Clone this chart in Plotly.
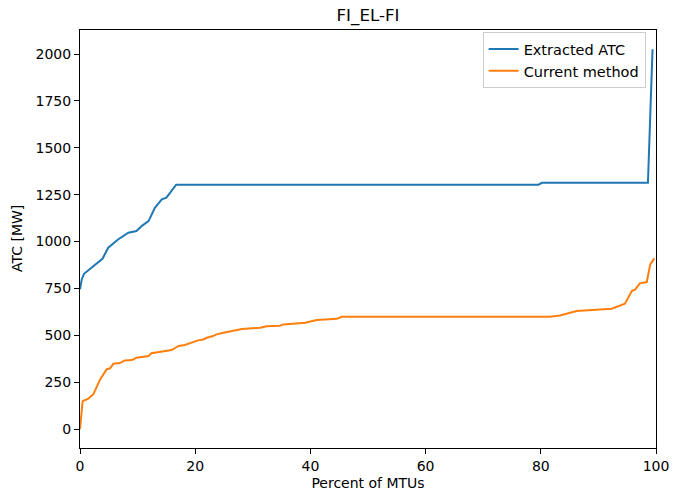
import plotly.graph_objects as go

# Extracted ATC (blue)
atc_x = [0.0, 0.3, 0.7, 2.0, 3.9, 4.9, 6.6, 8.4, 9.8, 10.8, 11.9, 13.0, 14.2, 15.0, 16.7,
         79.6, 80.2, 98.6, 99.4]
atc_y = [745, 798, 828, 860, 908, 967, 1011, 1047, 1056, 1085, 1109, 1180, 1225, 1234, 1303,
         1303, 1313, 1313, 2025]

# Current method (orange)
cur_x = [0.0, 0.46, 1.45, 2.3, 3.5, 4.6, 5.2, 5.8, 6.9, 7.8, 9.0, 9.8, 11.9, 12.4, 15.9,
         17.1, 18.2, 20.5, 21.4, 22.0, 23.1, 23.7, 24.9, 26.6, 28.1, 31.3, 32.4, 34.7,
         35.3, 39.1, 41.1, 44.6, 45.4, 81.6, 83.3, 85.1, 86.2, 92.3, 94.6, 95.8, 96.4,
         97.2, 98.4, 99.0, 99.7]
cur_y = [0, 149, 162, 185, 265, 318, 324, 348, 352, 366, 368, 380, 389, 404, 421,
         443, 448, 473, 478, 487, 496, 505, 514, 523, 533, 540, 548, 551,
         558, 567, 581, 588, 599, 599, 606, 620, 629, 642, 668, 736, 745,
         777, 784, 878, 910]

x_ticks = [0, 20, 40, 60, 80, 100]
y_ticks = [0, 250, 500, 750, 1000, 1250, 1500, 1750, 2000]

W, H = 673, 491
ML, MR, MT, MB = 80, 17, 30, 43
PW = W - ML - MR

fig = go.Figure()
fig.add_trace(go.Scatter(x=atc_x, y=atc_y, mode="lines", name="Extracted ATC",
                         line=dict(color="#1f77b4", width=2)))
fig.add_trace(go.Scatter(x=cur_x, y=cur_y, mode="lines", name="Current method",
                         line=dict(color="#ff7f0e", width=2)))

axis_common = dict(showgrid=False, zeroline=False, showline=True, linecolor="black",
                   linewidth=1, mirror=True, ticks="outside", ticklen=5, tickwidth=1,
                   tickcolor="black", tickfont=dict(size=14, color="black"),
                   automargin=False)

fig.update_layout(
    width=W, height=H,
    margin=dict(l=ML, r=MR, t=MT, b=MB),
    paper_bgcolor="white", plot_bgcolor="white",
    font=dict(family="DejaVu Sans", color="black"),
    title=dict(text="FI_EL-FI", x=0.5, xref="paper", xanchor="center",
               y=1 - 15/H, yanchor="middle", font=dict(size=16.7), automargin=False),
    xaxis=dict(range=[0, 100], tickvals=x_ticks,
               title=dict(text="Percent of MTUs", font=dict(size=14)),
               **axis_common),
    yaxis=dict(range=[-101, 2128], tickvals=y_ticks, **axis_common),
    legend=dict(x=0.982, y=0.995, xanchor="right", yanchor="top",
                bgcolor="rgba(255,255,255,0.8)", bordercolor="#cccccc", borderwidth=1,
                font=dict(size=14.5), tracegroupgap=0),
    showlegend=True,
    annotations=[dict(text="ATC [MW]", textangle=-90, showarrow=False,
                      xref="paper", yref="paper", x=(17 - ML) / PW, y=0.5,
                      xanchor="center", yanchor="middle", font=dict(size=14))],
)

# remove the browser's default 8px body margin so the figure fills the window
fig.write_html("out.html", config={"displayModeBar": False},
               post_script="document.body.style.margin='0px';")
